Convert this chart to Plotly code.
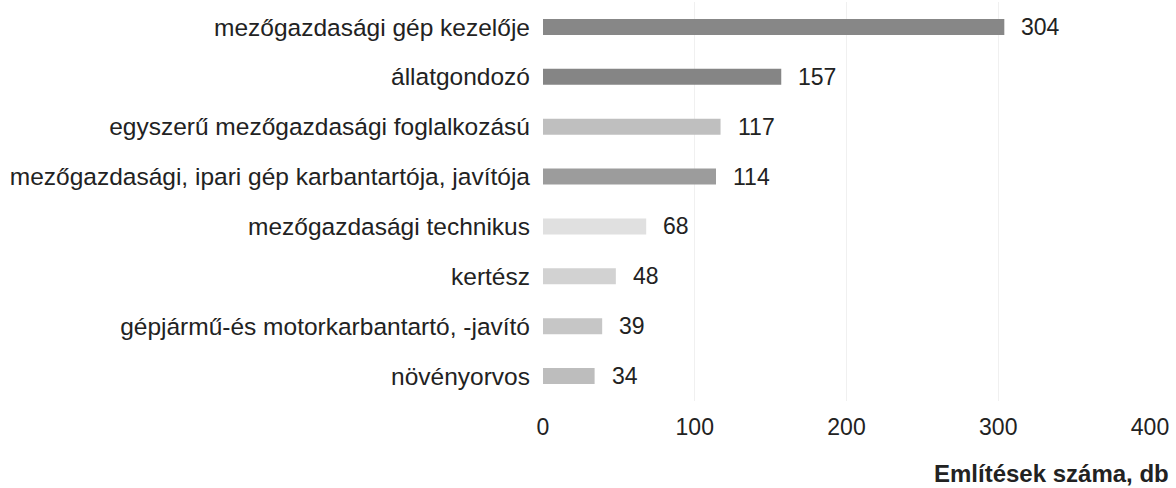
import plotly.graph_objects as go

categories = [
    "mezőgazdasági gép kezelője",
    "állatgondozó",
    "egyszerű mezőgazdasági foglalkozású",
    "mezőgazdasági, ipari gép karbantartója, javítója",
    "mezőgazdasági technikus",
    "kertész",
    "gépjármű-és motorkarbantartó, -javító",
    "növényorvos",
]
values = [304, 157, 117, 114, 68, 48, 39, 34]
bar_colors = ["#878787", "#858585", "#bfbfbf", "#9c9c9c", "#e0e0e0", "#d2d2d2", "#c6c6c6", "#bdbdbd"]
x_ticks = [0, 100, 200, 300, 400]
x_title = "Említések száma, db"

FONT = "Liberation Sans, Arial, sans-serif"

fig = go.Figure()
fig.add_trace(go.Bar(
    x=values, y=categories, orientation="h",
    marker=dict(color=bar_colors, line=dict(width=0)),
    width=0.32, hoverinfo="skip",
))

for v, c in zip(values, categories):
    fig.add_annotation(x=v, y=c, text=str(v), showarrow=False,
                       xanchor="left", xshift=15,
                       font=dict(size=23, color="#222222", family=FONT))

fig.add_annotation(xref="paper", yref="paper", x=1.035, y=-0.1805, xanchor="right", yanchor="middle",
                   text="<b>" + x_title + "</b>", showarrow=False,
                   font=dict(size=24, color="#222222", family=FONT))

fig.update_layout(
    width=1176, height=488,
    margin=dict(l=543, r=26, t=2, b=87),
    paper_bgcolor="white", plot_bgcolor="white",
    showlegend=False, hovermode=False,
    font=dict(family=FONT, size=24, color="#222222"),
    xaxis=dict(range=[0, 400], tickvals=x_ticks, showgrid=True, gridcolor="#f0f0f0",
               zeroline=False, showline=False, ticks="", ticklabelstandoff=10,
               tickfont=dict(size=23, color="#222222")),
    yaxis=dict(categoryorder="array", categoryarray=categories,
               range=[7.5, -0.5], showgrid=False, zeroline=False, showline=False,
               ticks="", ticklabelstandoff=12, tickfont=dict(size=24.5, color="#222222")),
)

fig.write_html("out.html", config={"displayModeBar": False, "staticPlot": True},
               post_script="document.body.style.margin='0';document.body.style.overflow='hidden';")
